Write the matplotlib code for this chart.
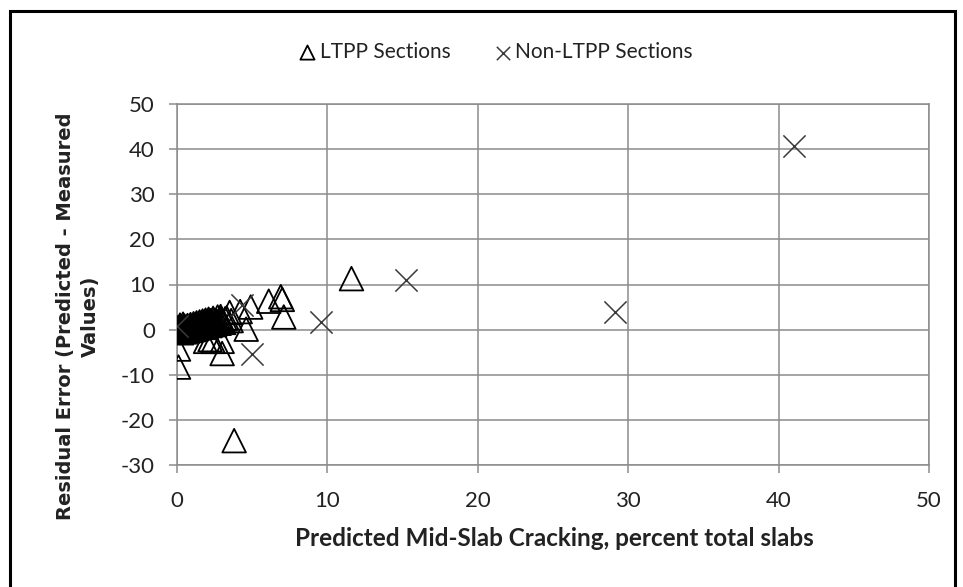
import matplotlib
matplotlib.use("Agg")
import matplotlib.pyplot as plt
from matplotlib.patches import Rectangle

plt.rcParams["axes.unicode_minus"] = False

# LTPP sections: predicted cracking (%) vs residual error
ltpp_x = [11.6, 3.8, 0.1, 0.1, 3.0, 4.6, 7.1, 7.0, 6.9, 6.1, 4.9, 4.2, 3.5, 2.9,
          1.9, 2.4, 3.0, 2.2,
          0.0, 0.0, 0.05, 0.1, 0.1, 0.2, 0.2, 0.3, 0.3, 0.4, 0.4, 0.5, 0.5, 0.6,
          0.7, 0.7, 0.8, 0.9, 0.9, 1.0, 1.1, 1.1, 1.2, 1.3, 1.3, 1.4, 1.5, 1.5,
          1.6, 1.7, 1.7, 1.8, 1.9, 1.9, 2.0, 2.1, 2.2, 2.3, 2.4, 2.5, 2.6, 2.7,
          2.8, 2.9, 3.1, 3.3, 3.6,
          0.15, 0.25, 0.35, 0.45, 0.55, 0.65, 0.75, 0.85, 0.95, 1.05, 1.15, 1.25,
          1.35, 1.45, 1.55, 1.65, 1.75, 1.85, 1.95, 2.05, 2.15, 2.25, 2.35, 2.45,
          0.6, 1.0, 1.4, 1.8, 2.2, 2.6, 3.0, 3.2, 0.2, 0.4]
ltpp_y = [11.3, -24.6, -8.3, -4.3, -5.3, 0.1, 2.8, 6.7, 7.3, 6.3, 5.0, 4.0, 3.8, 2.9,
          -2.6, -2.6, -2.6, -2.2,
          -0.6, 0.0, 0.4, -0.3, 0.2, -0.5, 0.6, 0.0, -0.7, 0.5, -0.2, 0.8, -0.5, 0.2,
          0.9, -0.3, 0.4, 1.1, -0.2, 0.6, 1.3, 0.0, 0.8, 1.5, 0.2, 1.0, 1.7, 0.4,
          1.2, 1.9, 0.5, 1.3, 2.1, 0.7, 1.5, 2.3, 0.9, 1.7, 2.5, 1.1, 2.0, 2.8,
          1.4, 2.3, 1.6, 2.6, 2.0,
          0.1, 0.3, -0.1, 0.3, 0.1, 0.6, 0.4, 0.8, 0.5, 0.9, 0.6, 1.1,
          0.8, 1.2, 1.0, 1.4, 1.1, 1.6, 1.3, 1.8, 1.4, 2.0, 1.6, 2.1,
          -0.1, 0.2, 0.6, 0.9, 1.2, 1.6, 1.9, 2.4, 1.0, 1.2]

# Non-LTPP sections
non_x = [41.0, 15.2, 29.1, 9.6, 5.0, 0.0, 4.3]
non_y = [40.8, 11.0, 4.0, 1.6, -5.3, 0.8, 5.5]

x_ticks = [0, 10, 20, 30, 40, 50]
y_ticks = [-30, -20, -10, 0, 10, 20, 30, 40, 50]

W, H = 963, 587
fig = plt.figure(figsize=(W / 100, H / 100), dpi=100)
ax = fig.add_axes([177 / W, 1 - 465 / H, (929 - 177) / W, (465 - 104) / H])

grid_c = "#8c8c8c"
ax.scatter(ltpp_x, ltpp_y, marker="^", s=17 ** 2, facecolors="none",
           edgecolors="black", linewidths=1.3, zorder=3, label="LTPP Sections")
ax.scatter(non_x, non_y, marker="x", s=16 ** 2, c="#3a3a3a",
           linewidths=1.1, zorder=3, label="Non-LTPP Sections")

ax.set_xlim(0, 50)
ax.set_ylim(-30, 50)
ax.set_xticks(x_ticks)
ax.set_yticks(y_ticks)
ax.grid(True, color=grid_c, linewidth=1.1)
ax.set_axisbelow(True)
for s in ax.spines.values():
    s.set_color(grid_c)
    s.set_linewidth(1.1)
ax.tick_params(direction="out", length=6, width=1.1, color=grid_c,
               labelsize=16, labelcolor="#222222", pad=10)
ax.tick_params(axis="x", pad=13)
for lbl in ax.get_xticklabels() + ax.get_yticklabels():
    lbl.set_family("Lato")

fig.text(554 / W, 1 - 539 / H, "Predicted Mid-Slab Cracking, percent total slabs",
         ha="center", va="center", fontsize=17.5, fontweight="bold", family="Lato",
         color="#222222")
fig.text(78 / W, 1 - 316 / H, "Residual Error (Predicted - Measured\nValues)",
         ha="center", va="center", rotation=90, fontsize=14, fontweight="bold",
         family="DejaVu Sans", color="#222222", linespacing=1.45)

leg = fig.legend(loc="center", bbox_to_anchor=(495 / W, 1 - 52 / H), ncol=2,
                 frameon=False, markerscale=0.6, handletextpad=0.1,
                 columnspacing=2.0, handlelength=1.0,
                 prop={"family": "Lato", "size": 15})
for t in leg.get_texts():
    t.set_color("#222222")

fig.patches.append(Rectangle((10 / W, -0.02), (955 - 10) / W, 1 - 11 / H + 0.02,
                             transform=fig.transFigure, fill=False,
                             edgecolor="black", linewidth=2.2, clip_on=False))

fig.savefig("out.png", dpi=100)
